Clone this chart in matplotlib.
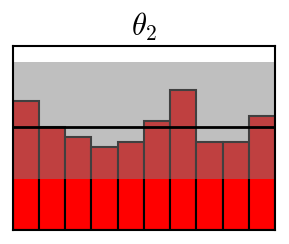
import matplotlib
matplotlib.use("Agg")
import matplotlib.pyplot as plt
import numpy as np

plt.rcParams["mathtext.fontset"] = "cm"

# rank histogram counts, 10 bins
bins = np.arange(10)
counts = [25, 20, 18, 16, 17, 21, 27, 17, 17, 22]
band_low = 9.9
band_high = 32.4
expected = 20.0
title = r"$\theta_2$"

fig = plt.figure(figsize=(2.89, 2.44), dpi=100)
ax = fig.add_axes([0.044, 0.0574, 0.908, 0.7553])

ax.bar(bins, counts, width=1.0, color="red", edgecolor="black", linewidth=1.5, zorder=1)
ax.axhspan(band_low, band_high, color="#808080", alpha=0.5, lw=0, zorder=2)
ax.axhline(expected, color="black", linewidth=2, zorder=3)

ax.set_xlim(-0.5, 9.5)
ax.set_ylim(0, band_high * 1.1)
ax.set_xticks([])
ax.set_yticks([])
for s in ax.spines.values():
    s.set_linewidth(1.5)
    s.set_zorder(4)

ax.set_title(title, fontsize=22, pad=7)

fig.savefig("out.png", dpi=100)
